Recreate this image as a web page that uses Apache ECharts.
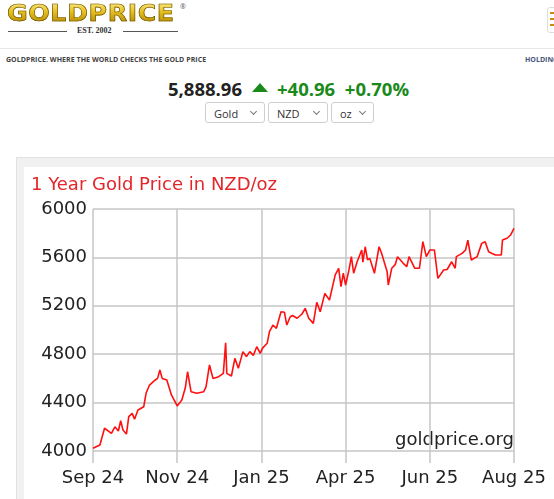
<!DOCTYPE html>
<html>
<head>
<meta charset="utf-8">
<script src="https://cdn.jsdelivr.net/npm/echarts@6/dist/echarts.min.js"></script>
<style>
  html, body { margin: 0; padding: 0; width: 554px; height: 499px; overflow: hidden; background: #fff; font-family: 'Open Sans', sans-serif; }
  .logo { position: absolute; left: 7px; top: 0px; font-family: 'DejaVu Sans', sans-serif; font-weight: bold; font-size: 23px; letter-spacing: 0.5px;
    background: linear-gradient(#fff3a0 0%, #e6c020 45%, #a77e00 100%); -webkit-background-clip: text; background-clip: text; color: transparent;
    -webkit-text-stroke: 0.6px #6b5200; transform: scaleX(1.1); transform-origin: left; }
  .reg { position: absolute; left: 180px; top: 2px; font-size: 7px; color: #555; }
  .est { position: absolute; left: 8px; top: 26px; width: 170px; height: 10px; }
  .est .ln { position: absolute; top: 5px; height: 1px; background: #555; }
  .est span { position: absolute; left: 69px; top: 0; font-family: 'Liberation Serif', serif; font-weight: bold; font-size: 8px; color: #333; }
  .menu { position: absolute; left: 547px; top: 7px; width: 14px; height: 24px; border: 1px solid #ddd; border-radius: 3px; }
  .menu i { position: absolute; left: 2px; width: 8px; height: 2px; background: #c88a10; }
  .rule { position: absolute; left: 0; top: 48px; width: 554px; height: 1px; background: #e6e6e6; }
  .tag { position: absolute; left: 6px; top: 55px; font-size: 7px; font-weight: bold; color: #444; letter-spacing: 0.05px; }
  .hold { position: absolute; left: 525px; top: 55px; font-size: 7px; font-weight: bold; color: #46557a; }
  .price { position: absolute; left: 168px; top: 76px; font-size: 18.5px; font-weight: bold; white-space: nowrap; }
  .price .v { color: #222; }
  .price .g { color: #1a8a1a; }
  .tri { position: absolute; left: 252px; top: 83px; width: 0; height: 0; border-left: 8px solid transparent; border-right: 8px solid transparent; border-bottom: 9px solid #1a8a1a; }
  .sel { position: absolute; top: 102px; height: 21px; border: 1px solid #cfcfcf; border-radius: 3px; font-size: 11px; color: #333; box-sizing: border-box; }
  .sel span { position: absolute; left: 8px; top: 3px; }
  .sel b { position: absolute; right: 8px; top: 6px; width: 4px; height: 4px; border-right: 1px solid #777; border-bottom: 1px solid #777; transform: rotate(45deg); }
  .panel { position: absolute; left: 16px; top: 157px; width: 560px; height: 360px; background: #f1f1f1; border: 1px solid #e2e2e2; }
  #chart { position: absolute; left: 24px; top: 167px; width: 530px; height: 332px; background: #fff; }
</style>
</head>
<body>
<div class="logo">GOLDPRICE</div>
<div class="reg">&reg;</div>
<div class="est"><div class="ln" style="left:0;width:59px"></div><span>EST. 2002</span><div class="ln" style="left:115px;width:55px"></div></div>
<div class="menu"><i style="top:4px"></i><i style="top:10px"></i><i style="top:16px"></i></div>
<div class="rule"></div>
<div class="tag">GOLDPRICE. WHERE THE WORLD CHECKS THE GOLD PRICE</div>
<div class="hold">HOLDINGS</div>
<div class="price"><span class="v">5,888.96</span><span style="display:inline-block;width:35px"></span><span class="g">+40.96&nbsp;&nbsp;+0.70%</span></div>
<div class="tri"></div>
<div class="sel" style="left:205px;width:60px"><span>Gold</span><b></b></div>
<div class="sel" style="left:268px;width:60px"><span>NZD</span><b></b></div>
<div class="sel" style="left:331px;width:43px"><span>oz</span><b></b></div>
<div class="panel"></div>
<div id="chart"></div>
<script>
// days since start of the 1-year window, and NZD/oz price
const days = [0, 6, 10, 16, 19, 22, 24, 26, 29, 31, 34, 36, 39, 44, 46, 49, 54, 56, 58, 60,
  64, 68, 73, 77, 80, 82, 85, 90, 96, 98, 101, 104, 109, 113, 115, 116, 120, 123, 126, 130,
  133, 136, 139, 142, 145, 147, 151, 153, 156, 159, 163, 166, 168, 171, 173, 177, 181, 184, 187, 191,
  194, 197, 201, 205, 210, 213, 215, 217, 219, 222, 224, 226, 229, 233, 234, 236, 238, 240, 244, 248,
  250, 255, 256, 259, 262, 264, 269, 272, 274, 279, 283, 286, 289, 292, 296, 299, 304, 307, 311, 314,
  315, 320, 323, 325, 328, 333, 337, 340, 343, 346, 349, 354, 355, 359, 362, 365];
const prices = [4022, 4050, 4188, 4146, 4200, 4165, 4250, 4173, 4140, 4284, 4311, 4262, 4339, 4366, 4477, 4545, 4587, 4600, 4669, 4600,
  4587, 4463, 4372, 4421, 4520, 4655, 4490, 4477, 4490, 4530, 4711, 4600, 4614, 4642, 4895, 4642, 4620, 4766, 4683, 4821,
  4780, 4821, 4790, 4862, 4807, 4850, 4890, 4986, 5041, 5014, 5151, 5146, 5041, 5110, 5120, 5097, 5130, 5179, 5097, 5055,
  5229, 5151, 5303, 5248, 5455, 5510, 5358, 5469, 5372, 5500, 5606, 5469, 5564, 5661, 5560, 5688, 5580, 5592, 5469, 5688,
  5640, 5482, 5372, 5510, 5540, 5606, 5551, 5523, 5606, 5510, 5510, 5730, 5606, 5661, 5661, 5427, 5496, 5500, 5564, 5510,
  5606, 5633, 5661, 5743, 5578, 5606, 5716, 5730, 5647, 5633, 5620, 5620, 5743, 5758, 5785, 5840];
const tickLabels = ['Sep 24', 'Nov 24', 'Jan 25', 'Apr 25', 'Jun 25', 'Aug 25'];

const chart = echarts.init(document.getElementById('chart'));
const font = 'DejaVu Sans';
const gridColor = '#c6c6c6';

chart.setOption({
  animation: false,
  textStyle: { fontFamily: font },
  title: {
    text: '1 Year Gold Price in NZD/oz',
    left: 2, top: 4,
    textStyle: { fontFamily: font, fontSize: 18, fontWeight: 'normal', color: '#e4252a' }
  },
  graphic: [{
    type: 'text', right: 40, top: 264,
    style: { text: 'goldprice.org', fontFamily: font, fontSize: 18, fill: '#222' }
  }],
  grid: { left: 69, top: 42, right: 40, bottom: 48 },
  xAxis: {
    type: 'value', min: 0, max: 365, interval: 73,
    axisLine: { show: false },
    axisTick: { show: true, length: 12, lineStyle: { color: gridColor, width: 1.5 } },
    splitLine: { show: true, lineStyle: { color: gridColor, width: 1.5 } },
    axisLabel: {
      margin: 18, fontSize: 18, color: '#222', fontFamily: font,
      formatter: v => tickLabels[Math.round(v / 73)]
    }
  },
  yAxis: {
    type: 'value', min: 4000, max: 6000, interval: 400,
    axisLine: { show: false },
    axisTick: { show: false },
    splitLine: { show: true, lineStyle: { color: gridColor, width: 1.5 } },
    axisLabel: { margin: 6, fontSize: 18, color: '#222', fontFamily: font, formatter: v => String(v) }
  },
  series: [{
    type: 'line',
    data: days.map((d, i) => [d, prices[i]]),
    showSymbol: false,
    lineStyle: { color: '#ff1010', width: 1.6 }
  }]
});
</script>
</body>
</html>
